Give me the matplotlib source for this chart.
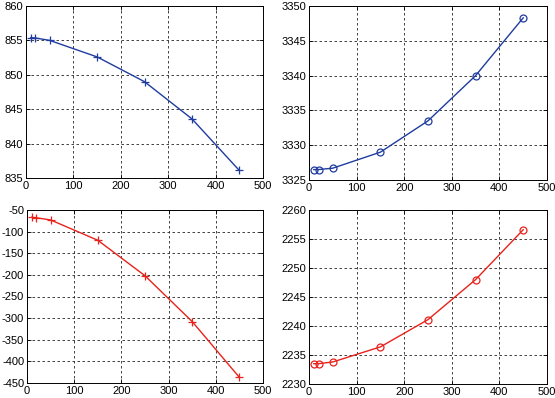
import matplotlib
matplotlib.use("Agg")
import matplotlib.pyplot as plt

plt.rcParams['font.family'] = ['Liberation Sans', 'DejaVu Sans']
plt.rcParams['axes.unicode_minus'] = False

x = [10, 20, 50, 150, 250, 350, 450]
tl = [855.4, 855.35, 855.0, 852.6, 849.0, 843.6, 836.1]
tr = [3326.5, 3326.5, 3326.7, 3329.0, 3333.5, 3340.0, 3348.3]
bl = [-67, -68, -73, -120, -202, -308, -437]
br = [2233.5, 2233.5, 2233.8, 2236.4, 2241.1, 2248.0, 2256.6]

blue = '#1f3c9e'
red = '#e8221c'

W, H = 555, 398
fig = plt.figure(figsize=(W/100, H/100), dpi=100)

def add(l, r, t, b):
    return fig.add_axes([l/W, 1 - b/H, (r-l)/W, (b-t)/H])

specs = [
    ((26, 263, 6, 178), tl, blue, '+', (835, 860), range(835, 861, 5)),
    ((309, 547, 6, 180), tr, blue, 'o', (3325, 3350), range(3325, 3351, 5)),
    ((27, 263, 210, 383), bl, red, '+', (-450, -50), range(-450, -49, 50)),
    ((309, 547, 210, 384), br, red, 'o', (2230, 2260), range(2230, 2261, 5)),
]

for (l, r, t, b), y, c, m, ylim, yt in specs:
    ax = add(l, r, t, b)
    if m == 'o':
        ax.plot(x, y, color=c, lw=1.0, marker='o', ms=5, mfc='none', mew=0.9)
    else:
        ax.plot(x, y, color=c, lw=1.0, marker='+', ms=5.5, mew=0.9)
    ax.set_xlim(0, 500)
    ax.set_ylim(*ylim)
    ax.set_xticks(range(0, 501, 100))
    ax.set_yticks(list(yt))
    ax.grid(True, color='#222222', ls=(0, (3, 3)), lw=0.6)
    ax.tick_params(direction='in', labelsize=8, length=3, width=0.6, top=True, right=True, pad=2)
    for s in ax.spines.values():
        s.set_linewidth(0.7)

fig.savefig('out.png', dpi=100)
